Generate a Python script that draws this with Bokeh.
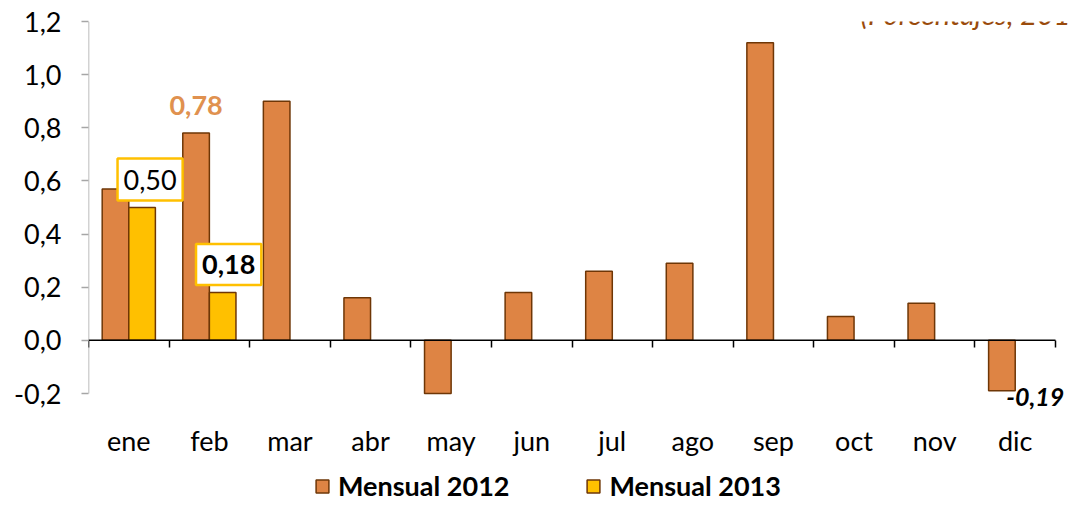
from bokeh.plotting import figure
from bokeh.models import (Range1d, FixedTicker, CustomJSTickFormatter, LinearAxis,
                          Label, Legend, LegendItem, ColumnDataSource)
from bokeh.embed import file_html
from bokeh.resources import INLINE

months = ["ene", "feb", "mar", "abr", "may", "jun", "jul", "ago", "sep", "oct", "nov", "dic"]
mensual_2012 = [0.57, 0.78, 0.90, 0.16, -0.20, 0.18, 0.26, 0.29, 1.12, 0.09, 0.14, -0.19]
mensual_2013 = [0.50, 0.18]
y_ticks = [-0.2, 0.0, 0.2, 0.4, 0.6, 0.8, 1.0, 1.2]
title_text = "(Porcentajes, 2012-2013)"

FONT = "Lato"
FS = "27px"
C2012 = "#DE8444"
C2013 = "#FFC000"
EDGE = "#6E3606"

W, H = 1070, 502
LEFT, TOP = 88, 21
CAT_AREA = 967                    # pixels covered by the 12 months
AXIS_H = 372                      # pixels between the top and bottom y ticks
n = len(months)
xppu = CAT_AREA / n
x_end = (W - LEFT) / xppu
ppu = AXIS_H / (y_ticks[-1] - y_ticks[0])
frame_h = H - TOP
y_start = y_ticks[-1] - frame_h / ppu

p = figure(width=W, height=H, output_backend="svg", toolbar_location=None,
           x_range=Range1d(0, x_end), y_range=Range1d(y_start, y_ticks[-1]),
           min_border_left=LEFT, min_border_right=0, min_border_top=TOP, min_border_bottom=0)
p.outline_line_color = None
p.grid.visible = False
p.background_fill_color = "white"

src12 = ColumnDataSource(dict(x=[i + 0.5 - 0.165 for i in range(len(mensual_2012))], top=mensual_2012))
src13 = ColumnDataSource(dict(x=[i + 0.5 + 0.165 for i in range(len(mensual_2013))], top=mensual_2013))
r12 = p.vbar(x="x", top="top", bottom=0, width=0.33, source=src12,
             fill_color=C2012, line_color=EDGE, line_width=1.5)
r13 = p.vbar(x="x", top="top", bottom=0, width=0.33, source=src13,
             fill_color=C2013, line_color=EDGE, line_width=1.5)

# y axis (line drawn only over the tick span)
ya = p.yaxis[0]
ya.ticker = FixedTicker(ticks=y_ticks)
ya.formatter = CustomJSTickFormatter(code="return tick.toFixed(1).replace('.', ',');")
ya.axis_line_color = None
ya.major_tick_line_color = "#A6A6A6"
ya.major_tick_line_width = 1.5
ya.major_tick_in = 0
ya.major_tick_out = 7
ya.minor_tick_line_color = None
ya.major_label_text_font = FONT
ya.major_label_text_font_size = FS
ya.major_label_text_color = "black"
ya.major_label_standoff = 20
p.segment(x0=[0], y0=[y_ticks[0]], x1=[0], y1=[y_ticks[-1]], line_color="#A6A6A6", line_width=1.5)

# month labels axis, fixed at the bottom tick
xa = p.xaxis[0]
xa.fixed_location = y_ticks[0]
xa.ticker = FixedTicker(ticks=[i + 0.5 for i in range(n)])
xa.formatter = CustomJSTickFormatter(args=dict(months=months),
                                     code="return months[Math.floor(tick)];")
xa.axis_line_color = None
xa.major_tick_line_color = None
xa.minor_tick_line_color = None
xa.major_label_text_font = FONT
xa.major_label_text_font_size = FS
xa.major_label_text_color = "black"
xa.major_label_standoff = 24

# zero line over the 12 months, with category boundary ticks
p.segment(x0=[0], y0=[0], x1=[n], y1=[0], line_color="black", line_width=1.5)
za = LinearAxis(fixed_location=0, ticker=FixedTicker(ticks=list(range(n + 1))))
za.axis_line_color = None
za.major_tick_line_color = "black"
za.major_tick_line_width = 1.5
za.major_tick_in = 0
za.major_tick_out = 7
za.minor_tick_line_color = None
za.major_label_text_alpha = 0
za.major_label_text_font_size = "1px"
p.add_layout(za, "below")

box_pad = dict(left=6, right=6, top=11, bottom=11)

# data labels
p.add_layout(Label(x=0 + 0.5 + 0.165, y=mensual_2013[0], x_offset=8, y_offset=28,
                   text="0,50", text_font=FONT, text_font_size=FS, text_color="black",
                   text_align="center", text_baseline="middle",
                   background_fill_color="white", border_line_color=C2013, border_line_width=2.5,
                   padding=box_pad))
p.add_layout(Label(x=1 + 0.5 + 0.165, y=mensual_2013[1], x_offset=6, y_offset=28,
                   text="0,18", text_font=FONT, text_font_size=FS, text_font_style="bold",
                   text_color="black", text_align="center", text_baseline="middle",
                   background_fill_color="white", border_line_color=C2013, border_line_width=2.5,
                   padding=box_pad))
p.add_layout(Label(x=1 + 0.5 - 0.165, y=mensual_2012[1], y_offset=28,
                   text="0,78", text_font=FONT, text_font_size=FS, text_font_style="bold",
                   text_color="#E0914F", text_align="center", text_baseline="middle"))
p.add_layout(Label(x=11 + 0.5, y=mensual_2012[11], x_offset=-9, y_offset=-6,
                   text="-0,19", text_font=FONT, text_font_size="25px", text_font_style="bold italic",
                   text_color="black", text_align="left", text_baseline="middle"))

# title (cut at right edge as in the original)
p.add_layout(Label(x=772, y=frame_h + 8, x_units="screen", y_units="screen",
                   text=title_text, text_font=FONT, text_font_size="29px",
                   text_font_style="italic", text_color="#9A4B0C",
                   text_align="left", text_baseline="alphabetic"))

legend = Legend(items=[LegendItem(label="Mensual 2012", renderers=[r12]),
                       LegendItem(label="Mensual 2013", renderers=[r13])],
                orientation="horizontal", location=(226, 0),
                label_text_font=FONT, label_text_font_size=FS, label_text_font_style="bold",
                label_text_color="black", glyph_width=16, glyph_height=16,
                label_standoff=8, spacing=76, padding=0, margin=0,
                border_line_color=None, background_fill_alpha=0)
p.add_layout(legend, "center")

open("out.html", "w").write(file_html(p, INLINE))
